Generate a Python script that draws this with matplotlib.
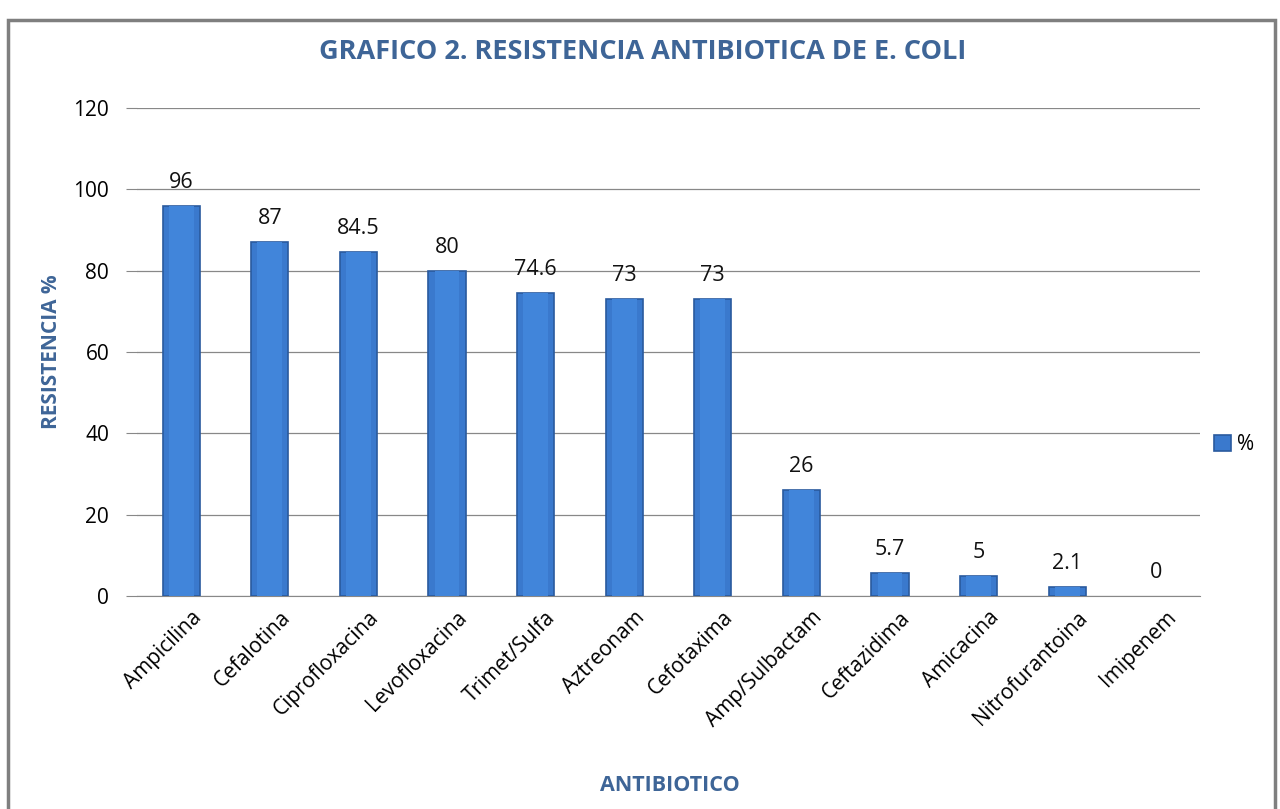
import matplotlib
matplotlib.use("Agg")
import matplotlib.pyplot as plt
import matplotlib.transforms as mtransforms
from matplotlib.patches import Rectangle

antibioticos = ['Ampicilina', 'Cefalotina', 'Ciprofloxacina', 'Levofloxacina',
                'Trimet/Sulfa', 'Aztreonam', 'Cefotaxima', 'Amp/Sulbactam',
                'Ceftazidima', 'Amicacina', 'Nitrofurantoina', 'Imipenem']
resistencia = [96, 87, 84.5, 80, 74.6, 73, 73, 26, 5.7, 5, 2.1, 0]
etiquetas = ['96', '87', '84.5', '80', '74.6', '73', '73', '26', '5.7', '5', '2.1', '0']
yticks = [0, 20, 40, 60, 80, 100, 120]

blue_title = '#3E6597'
bar_color = '#3A79CD'

plt.rcParams['font.family'] = ['Open Sans', 'DejaVu Sans']

fig = plt.figure(figsize=(12.8, 8.09), dpi=100)
ax = fig.add_axes([0.107, 0.2633, 0.8305, 0.6032])

x = range(len(antibioticos))
bars = ax.bar(x, resistencia, width=0.42, color=bar_color,
              edgecolor='#2A5A9E', linewidth=1.2, label='%', zorder=3)
# lighter centre to hint the bevelled look
inner = ax.bar(x, resistencia, width=0.28, color='#4185DA', linewidth=0, zorder=4)
for b, v in zip(bars, resistencia):
    if v == 0:
        b.set_linewidth(0)

for i, (v, t) in enumerate(zip(resistencia, etiquetas)):
    ax.text(i, v + 3.2, t, ha='center', va='bottom', fontsize=15.5, color='#111111')

ax.set_ylim(0, 120)
ax.set_xlim(-0.5, len(antibioticos) - 0.5)
ax.set_yticks(yticks)
ax.tick_params(axis='y', length=8, color='#888888', labelsize=15, pad=12)
ax.tick_params(axis='x', length=0, labelsize=15, pad=8)
ax.set_xticks(list(x))
ax.set_xticklabels(antibioticos, rotation=45, ha='right', rotation_mode='anchor')
shift = mtransforms.ScaledTranslation(7 / 72, 0, fig.dpi_scale_trans)
for lbl in ax.get_xticklabels():
    lbl.set_transform(lbl.get_transform() + shift)
ax.grid(axis='y', color='#888888', linewidth=0.9, zorder=0)
for s in ['top', 'right', 'left']:
    ax.spines[s].set_visible(False)
ax.spines['bottom'].set_color('#888888')

ax.set_ylabel('RESISTENCIA %', color=blue_title, fontsize=15, fontweight='bold', labelpad=8)
fig.text(0.523, 0.029, 'ANTIBIOTICO', color=blue_title, fontsize=15.5,
         fontweight='bold', ha='center', va='center')
fig.text(0.502, 0.936, 'GRAFICO 2. RESISTENCIA ANTIBIOTICA DE E. COLI', color=blue_title,
         fontsize=19.5, fontweight='bold', ha='center', va='center')

ax.legend(handles=[bars], loc='center left', bbox_to_anchor=(0.996, 0.31), frameon=False,
          fontsize=15, handlelength=0.8, handleheight=0.8, handletextpad=0.3)

# outer chart frame
fig.patches.append(Rectangle((0.006, -0.01), 0.99, 0.985, transform=fig.transFigure,
                             fill=False, edgecolor='#7F7F7F', linewidth=2.5))

fig.savefig('out.png', dpi=100)
